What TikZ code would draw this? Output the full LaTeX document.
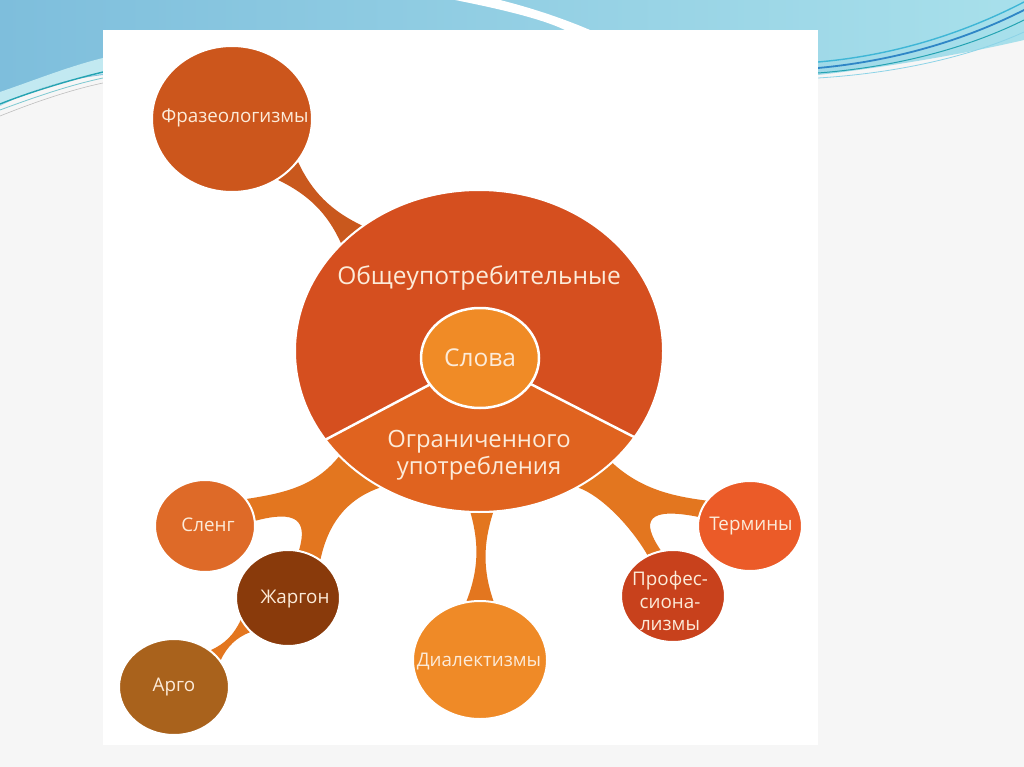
\documentclass[tikz,border=0pt]{standalone}
\usepackage{fontspec}
\setmainfont{Open Sans}
\usetikzlibrary{calc,shapes.geometric}
\pgfdeclarelayer{back}
\pgfdeclarelayer{conn}
\pgfsetlayers{back,conn,main}
\definecolor{pagebg}{HTML}{F6F6F6}
\definecolor{wavea}{HTML}{7EBEDC}
\definecolor{waveb}{HTML}{A8E0EB}
\definecolor{tealA}{HTML}{25A3B2}
\definecolor{blueA}{HTML}{2F86C6}
\definecolor{blueB}{HTML}{3FB6D6}
\definecolor{txtc}{HTML}{FCEBD9}
\definecolor{frazc}{HTML}{CC561C}
\definecolor{frazconn}{HTML}{C9581D}
\definecolor{mainA}{HTML}{D54F1F}
\definecolor{mainB}{HTML}{E0631F}
\definecolor{slovac}{HTML}{F08B26}
\definecolor{slengc}{HTML}{DE6A28}
\definecolor{jargc}{HTML}{893A0B}
\definecolor{argoc}{HTML}{A9621C}
\definecolor{dialc}{HTML}{EF8A27}
\definecolor{termc}{HTML}{EB5B28}
\definecolor{profc}{HTML}{C8411C}
\definecolor{connc}{HTML}{E3761F}
\newcommand\bone[6]{%
  \coordinate (bA1) at #2; \coordinate (bB1) at #3;
  \coordinate (bB2) at #4; \coordinate (bA2) at #5;
  \coordinate (bA) at ($(bA1)!0.5!(bA2)$);
  \coordinate (bB) at ($(bB1)!0.5!(bB2)$);
  \coordinate (bC1) at ($(bA)!0.35!(bB)$);
  \coordinate (bC2) at ($(bA)!0.65!(bB)$);
  \coordinate (bP1) at ($(bA1)!0.35!(bB1)$);
  \coordinate (bP2) at ($(bA1)!0.65!(bB1)$);
  \coordinate (bQ1) at ($(bA2)!0.35!(bB2)$);
  \coordinate (bQ2) at ($(bA2)!0.65!(bB2)$);
  \path[#1] (bA1) .. controls ($(bC1)!#6!(bP1)$) and ($(bC2)!#6!(bP2)$) .. (bB1)
     -- (bB2) .. controls ($(bC2)!#6!(bQ2)$) and ($(bC1)!#6!(bQ1)$) .. (bA2) -- cycle;}
\tikzset{
  bub/.style={ellipse, inner sep=0pt, draw=white, line width=2pt},
  lbl/.style={text=txtc, inner sep=0pt, align=center, font=\fontsize{18.8}{22.5}\selectfont},
  big/.style={lbl, font=\fontsize{24.5}{27}\selectfont},
}
\begin{document}
\begin{tikzpicture}[x=1pt,y=-1pt]
\useasboundingbox (0,0) rectangle (1024,767);
\begin{pgfonlayer}{back}
  \fill[pagebg] (0,0) rectangle (1024,767);
  \shade[left color=wavea, right color=waveb] (0,0) -- (1024,0) -- (1024,40)
     .. controls (960,55) and (880,68) .. (818,75) -- (103,75)
     .. controls (60,80) and (25,92) .. (0,106) -- cycle;
  \fill[white] (455,0) .. controls (495,8) and (540,18) .. (565,30) -- (590,30)
     .. controls (555,15) and (520,5) .. (500,0) -- cycle;
  \fill[waveb!70!white] (0,92) .. controls (35,80) and (70,66) .. (103,58) -- (103,74)
     .. controls (60,80) and (25,92) .. (0,106) -- cycle;
  \draw[tealA, line width=1.4pt] (0,104) .. controls (30,92) and (70,80) .. (103,72);
  \draw[tealA!60, line width=0.8pt] (0,110) .. controls (35,97) and (70,85) .. (103,78);
  \draw[gray!50, line width=0.6pt] (0,116) .. controls (35,102) and (70,90) .. (103,83);
  \draw[blueB, line width=1.4pt] (818,62) .. controls (900,55) and (970,30) .. (1024,2);
  \draw[blueA, line width=1.8pt] (818,68) .. controls (905,60) and (975,35) .. (1024,10);
  \draw[tealA, line width=1pt] (818,73) .. controls (910,66) and (980,42) .. (1024,20);
  \draw[blueB!60, line width=0.8pt] (818,78) .. controls (915,72) and (985,50) .. (1024,32);
  \fill[white] (103,30) rectangle (818,745);
\end{pgfonlayer}

% bubbles
\node[bub, fill=frazc, minimum width=160pt, minimum height=146pt] (fraz) at (232,119) {};
\node[bub, fill=mainA, draw=none, minimum width=368pt, minimum height=322pt] (main) at (479,351) {};
\coordinate (hub) at (480,358);
\begin{scope}
  \clip (main.center) ellipse [x radius=184pt, y radius=161pt];
  \fill[mainB] (hub) -- ($(hub)!2!(main.-150)$) -- ++(0,220) -- ++(720,0)
     -- ($(hub)!2!(main.-29)$) -- cycle;
\end{scope}
\draw[white, line width=2.5pt] (hub) -- (main.-150) (hub) -- (main.-29);
\draw[white, line width=2pt] (main.center) ellipse [x radius=184pt, y radius=161pt];
\node[bub, fill=slovac, line width=2.5pt, minimum width=118pt, minimum height=100pt] (slova) at (hub) {};
\node[bub, fill=slengc, minimum width=100pt, minimum height=92pt] (sleng) at (205,526) {};
\node[bub, fill=jargc, minimum width=104pt, minimum height=96pt] (jarg) at (288,598) {};
\node[bub, fill=argoc, minimum width=110pt, minimum height=96pt] (argo) at (174,687) {};
\node[bub, fill=dialc, minimum width=134pt, minimum height=118pt] (dial) at (480,660) {};
\node[bub, fill=termc, minimum width=104pt, minimum height=90pt] (term) at (750,526) {};
\node[bub, fill=profc, minimum width=104pt, minimum height=92pt] (prof) at (673,596) {};

% texts
\node[big] (tobsh) at (479,278) {Общеупотребительные};
\node[big] (tslova) at (480,358) {Слова};
\node[big, font=\fontsize{23.8}{27}\selectfont] (togr) at (479,455) {Ограниченного\\употребления};
\node[lbl] (tfraz) at (235,118) {Фразеологизмы};
\node[lbl] (tsleng) at (208,525) {Сленг};
\node[lbl] (tjarg) at (295,599) {Жаргон};
\node[lbl] (targo) at (174,687) {Арго};
\node[lbl] (tdial) at (479,662) {Диалектизмы};
\node[lbl] (tterm) at (751,526) {Термины};
\node[lbl] (tprof) at (670,601) {Профес-\\сиона-\\лизмы};

% connectors
\begin{pgfonlayer}{conn}
  \bone{fill=frazconn}{(fraz.-53)}{(main.142)}{(main.133)}{(fraz.-33)}{0.16}
  \bone{fill=connc}{(main.-93)}{(dial.103)}{(dial.77)}{(main.-85)}{0.16}
  \bone{fill=connc}{(jarg.-155)}{(argo.45)}{(argo.30)}{(jarg.-138)}{0.25}
  \fill[connc] (main.-143) .. controls (315,486) and (285,493) .. (sleng.33)
     -- (sleng.6) .. controls (296,510) and (308,520) .. (jarg.77)
     -- (jarg.50) .. controls (328,525) and (345,500) .. (main.-126) -- cycle;
  \fill[connc] (main.-40) .. controls (640,488) and (670,496) .. (term.150)
     -- (term.170) .. controls (648,507) and (640,520) .. (prof.105)
     -- (prof.122) .. controls (630,525) and (600,495) .. (main.-54) -- cycle;
\end{pgfonlayer}
\end{tikzpicture}
\end{document}
